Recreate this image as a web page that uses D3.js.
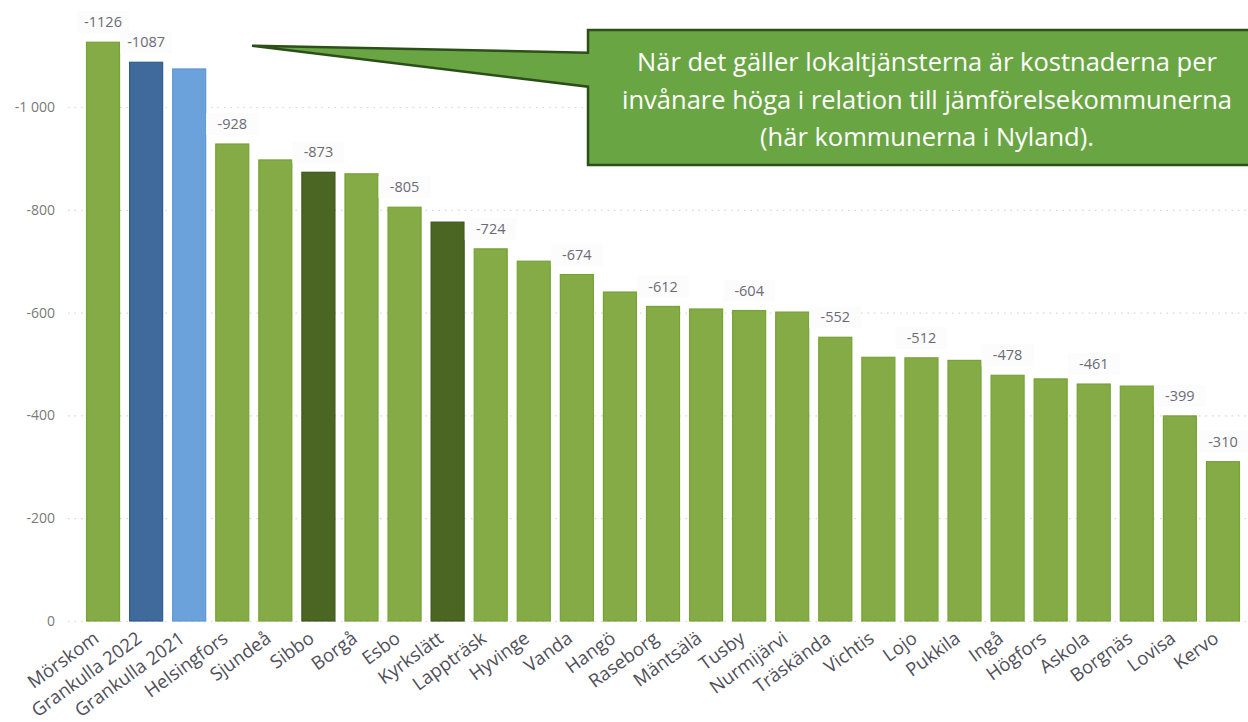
<!DOCTYPE html>
<html>
<head>
<meta charset="utf-8">
<script src="https://cdn.jsdelivr.net/npm/d3@7"></script>
<style>
  body { margin: 0; background: #fff; }
  svg { display: block; }
  .tick text { font-family: "Open Sans", "Noto Sans", sans-serif; }
</style>
</head>
<body>
<div id="chart"></div>
<script>
var w = 1248, h = 722;

// kommuner, kostnad per invånare (euro)
var categories = ["Mörskom", "Grankulla 2022", "Grankulla 2021", "Helsingfors", "Sjundeå", "Sibbo", "Borgå", "Esbo",
  "Kyrkslätt", "Lappträsk", "Hyvinge", "Vanda", "Hangö", "Raseborg", "Mäntsälä", "Tusby", "Nurmijärvi",
  "Träskända", "Vichtis", "Lojo", "Pukkila", "Ingå", "Högfors", "Askola", "Borgnäs", "Lovisa", "Kervo"];
var values = [-1126, -1087, -1074, -928, -897, -873, -870, -805, -776, -724, -700, -674, -640, -612, -607,
  -604, -601, -552, -513, -512, -507, -478, -471, -461, -457, -399, -310];
// which group each bar belongs to (sets the colour)
var groups = ["ref", "g2022", "g2021", "ref", "ref", "peer", "ref", "ref", "peer", "ref", "ref", "ref", "ref",
  "ref", "ref", "ref", "ref", "ref", "ref", "ref", "ref", "ref", "ref", "ref", "ref", "ref", "ref"];
// bars that carry a data label in the original
var labelled = ["Mörskom", "Grankulla 2022", "Helsingfors", "Sibbo", "Esbo", "Lappträsk", "Vanda", "Raseborg",
  "Tusby", "Träskända", "Lojo", "Ingå", "Askola", "Lovisa", "Kervo"];
var yTicks = [0, -200, -400, -600, -800, -1000];
var noteLines = ["När det gäller lokaltjänsterna är kostnaderna per",
  "invånare höga i relation till jämförelsekommunerna",
  "(här kommunerna i Nyland)."];

var data = categories.map(function(c, i) {
  return { name: c, value: values[i], group: groups[i] };
});

var fill = d3.scaleOrdinal()
  .domain(["ref", "g2022", "g2021", "peer"])
  .range(["#84ab46", "#3f6a9b", "#6ca2db", "#4a6622"]);
var stroke = d3.scaleOrdinal()
  .domain(["ref", "g2022", "g2021", "peer"])
  .range(["#76a334", "#2f5d8f", "#5f97d3", "#3c561a"]);

var fi = d3.formatLocale({ decimal: ",", thousands: " ", grouping: [3], currency: ["", " €"], minus: "-" });
var fmt = fi.format(",d");

var x = d3.scaleBand()
  .domain(categories)
  .range([81.5, 1244.5])
  .paddingInner(0.21)
  .paddingOuter(0.105);

var y = d3.scaleLinear()
  .domain([0, -1200])
  .range([621, 4.2]);

var svg = d3.select("#chart").append("svg")
  .attr("width", w)
  .attr("height", h);

// gridlines + y axis
var yAxis = d3.axisLeft(y)
  .tickValues(yTicks)
  .tickFormat(fmt)
  .tickSize(0)
  .tickPadding(0);

var gy = svg.append("g")
  .attr("transform", "translate(55,0)")
  .call(yAxis);
gy.select(".domain").remove();
gy.selectAll("text")
  .attr("fill", "#7a7a7a")
  .style("font-size", "14px");

svg.append("g").selectAll("line")
  .data(yTicks)
  .enter().append("line")
  .attr("x1", 68)
  .attr("x2", w)
  .attr("y1", function(d) { return y(d) + 0.5; })
  .attr("y2", function(d) { return y(d) + 0.5; })
  .attr("stroke", "#d6d6d6")
  .attr("stroke-width", 1.2)
  .attr("stroke-dasharray", "1.5,5");

// bars
svg.append("g").selectAll("rect")
  .data(data)
  .enter().append("rect")
  .attr("x", function(d) { return x(d.name) + 0.5; })
  .attr("width", x.bandwidth() - 1)
  .attr("y", function(d) { return y(d.value); })
  .attr("height", function(d) { return y(0) - y(d.value); })
  .attr("fill", function(d) { return fill(d.group); })
  .attr("stroke", function(d) { return stroke(d.group); })
  .attr("stroke-width", 1.2);

// data labels
var lab = svg.append("g").selectAll("g")
  .data(data.filter(function(d) { return labelled.indexOf(d.name) >= 0; }))
  .enter().append("g")
  .attr("transform", function(d) {
    return "translate(" + (x(d.name) + x.bandwidth() / 2) + "," + (y(d.value) - 20) + ")";
  });

lab.append("rect")
  .attr("x", -26)
  .attr("y", -11)
  .attr("width", 52)
  .attr("height", 22)
  .attr("fill", "#fcfcfc");

lab.append("text")
  .attr("text-anchor", "middle")
  .attr("dy", "0.35em")
  .attr("fill", "#6b6b75")
  .style("font-family", "'Open Sans', 'Noto Sans', sans-serif")
  .style("font-size", "14.5px")
  .text(function(d) { return fmt(d.value).replace(/ /g, ""); });

// category labels
svg.append("g").selectAll("text")
  .data(categories)
  .enter().append("text")
  .attr("transform", function(d) {
    return "translate(" + (x(d) + x.bandwidth() / 2 - 3) + ",641) rotate(-36)";
  })
  .attr("text-anchor", "end")
  .attr("fill", "#4f4f5a")
  .style("font-family", "'Open Sans', 'Noto Sans', sans-serif")
  .style("font-size", "18.5px")
  .text(function(d) { return d; });

// callout
var note = svg.append("g");
note.append("path")
  .attr("d", "M588,30 H1262 V165 H588 V86.7 L252,45.7 L588,52.7 Z")
  .attr("fill", "#6aa544")
  .attr("stroke", "#2c4f19")
  .attr("stroke-width", 2.5)
  .attr("stroke-linejoin", "miter");

note.selectAll("text")
  .data(noteLines)
  .enter().append("text")
  .attr("x", 927)
  .attr("y", function(d, i) { return 71 + i * 37.5; })
  .attr("text-anchor", "middle")
  .attr("fill", "#fff")
  .style("font-family", "'Open Sans', sans-serif")
  .style("font-size", "25.5px")
  .text(function(d) { return d; });
</script>
</body>
</html>
